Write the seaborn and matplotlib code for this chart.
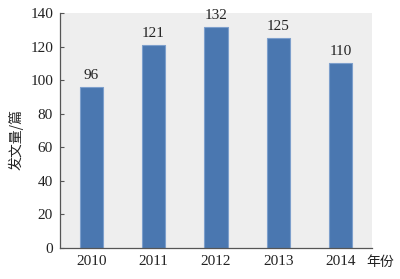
import matplotlib
matplotlib.use("Agg")
import matplotlib.pyplot as plt
import seaborn as sns
import pandas as pd

years = ["2010", "2011", "2012", "2013", "2014"]
counts = [96, 121, 132, 125, 110]
yticks = [0, 20, 40, 60, 80, 100, 120, 140]

sns.set_theme(style="white")
plt.rcParams['font.family'] = ['Liberation Serif', 'Noto Sans CJK SC']

df = pd.DataFrame({"year": years, "count": counts})

fig = plt.figure(figsize=(4.0, 2.79), dpi=100)
ax = fig.add_axes([0.15, 0.111, 0.78, 0.842])
ax.set_facecolor("#eeeeee")

sns.barplot(data=df, x="year", y="count", ax=ax, color="#4a77b0",
            width=0.37, saturation=1, edgecolor="#7d9fcc", linewidth=0.8)

for i, v in enumerate(counts):
    ax.text(i, v + 3, str(v), ha="center", va="bottom", fontsize=11, color="#222222")

ax.set_xlim(-0.5, 4.5)
ax.set_ylim(0, 140)
ax.set_yticks(yticks)
ax.set_yticklabels([str(t) for t in yticks], fontsize=11, color="#222222")
ax.tick_params(axis="x", which="major", length=0, labelsize=11, labelcolor="#222222", pad=5)
ax.set_xticks([0.5, 1.5, 2.5, 3.5, 4.5], minor=True)
ax.tick_params(axis="x", which="minor", direction="in", length=4, color="#555555", width=0.8)
ax.tick_params(axis="y", direction="in", length=3, color="#555555", width=0.8, left=True, labelsize=11, pad=5)

for s in ["top", "right"]:
    ax.spines[s].set_visible(False)
for s in ["left", "bottom"]:
    ax.spines[s].set_color("#555555")
    ax.spines[s].set_linewidth(0.9)

ax.set_xlabel("")
ax.set_ylabel("")
fig.text(0.04, 0.5, "发文量/篇", rotation=90, ha="center", va="center",
         fontsize=10, family=['Noto Sans CJK SC'], color="#222222")
fig.text(0.915, 0.06, "年份", ha="left", va="center", fontsize=10,
         family=['Noto Sans CJK SC'], color="#222222")

fig.savefig("out.png", dpi=100)
